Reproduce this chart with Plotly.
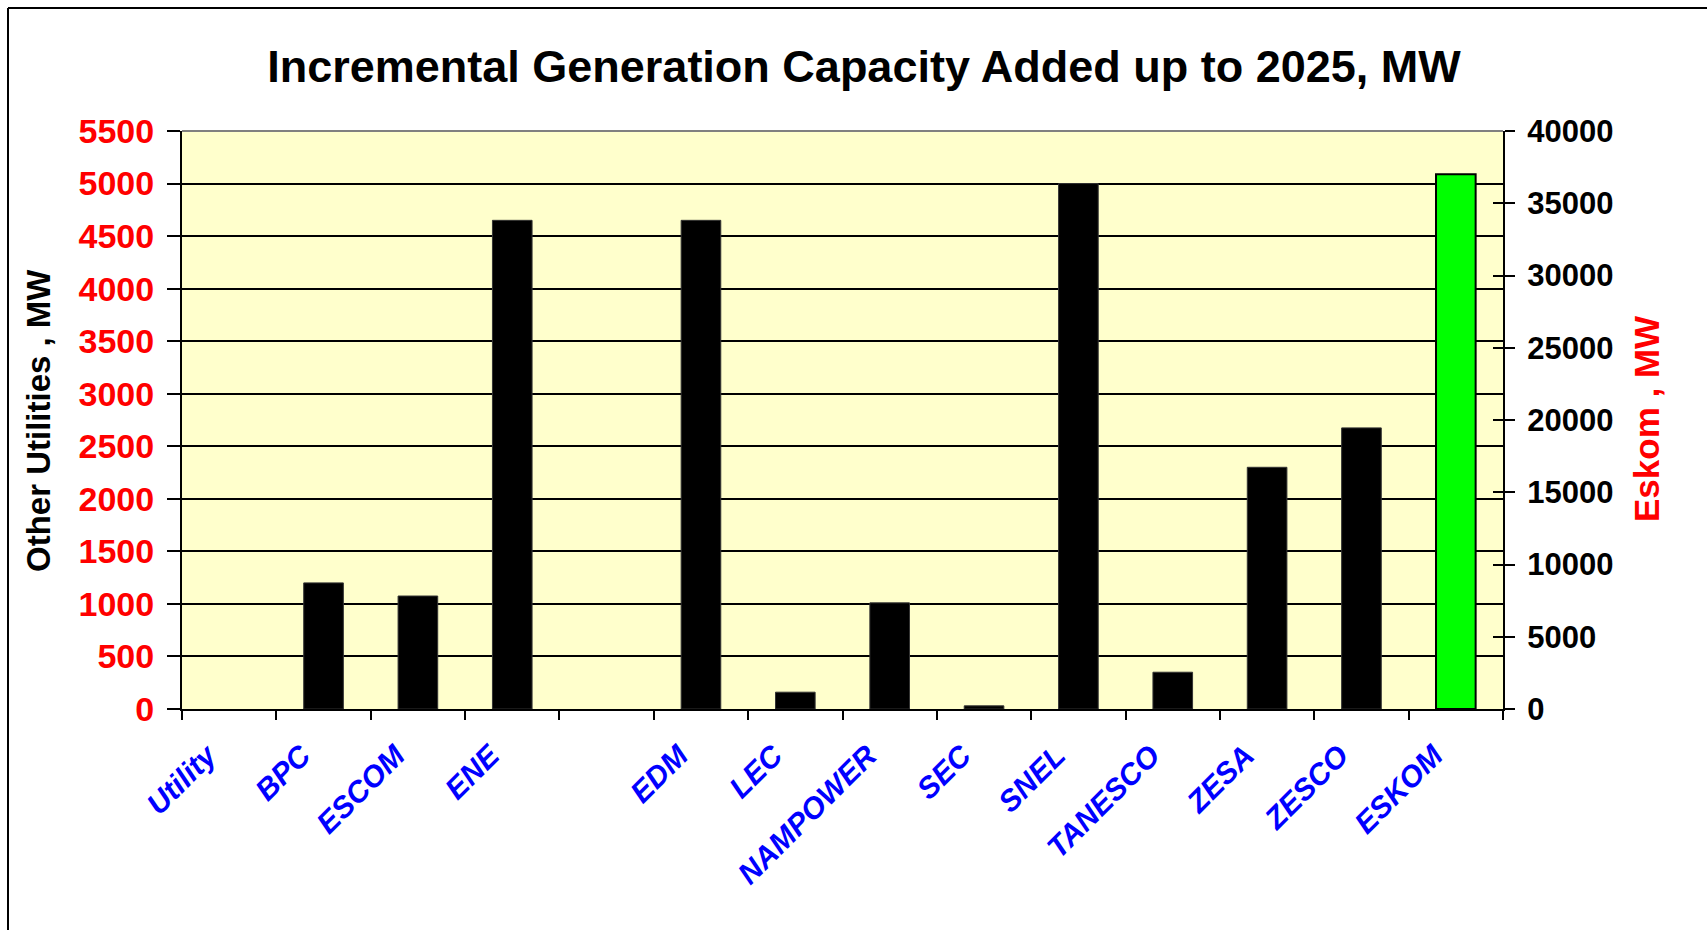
import plotly.graph_objects as go

categories = ["Utility", "BPC", "ESCOM", "ENE", " ", "EDM", "LEC", "NAMPOWER",
              "SEC", "SNEL", "TANESCO", "ZESA", "ZESCO", "ESKOM"]
other_utilities_mw = [None, 1200, 1075, 4650, None, 4650, 160, 1010,
                      30, 5000, 350, 2300, 2675, None]
eskom_mw = [None, None, None, None, None, None, None, None,
            None, None, None, None, None, 37000]

left_ticks = list(range(0, 5501, 500))
right_ticks = list(range(0, 40001, 5000))
right_tick_text = [str(v) for v in right_ticks]

FONT = "Arial, Liberation Sans, sans-serif"

fig = go.Figure()
fig.add_trace(go.Bar(
    x=categories, y=other_utilities_mw, yaxis="y", width=0.42,
    marker=dict(color="#000000", line=dict(color="#333333", width=1)),
    showlegend=False, hoverinfo="x+y",
))
fig.add_trace(go.Bar(
    x=categories, y=eskom_mw, yaxis="y2", width=0.42,
    marker=dict(color="#00FF00", line=dict(color="#000000", width=2)),
    showlegend=False, hoverinfo="x+y",
))
# invisible helper trace for inner half of right-axis ticks
fig.add_trace(go.Scatter(
    x=[categories[0]], y=[0], yaxis="y3", mode="markers",
    marker=dict(opacity=0), showlegend=False, hoverinfo="skip",
))
# invisible helper trace for the label axis (labels sit left of centre)
label_pos = [i - 0.23 for i in range(len(categories))]
fig.add_trace(go.Scatter(
    x=[0], y=[0], xaxis="x2", yaxis="y", mode="markers",
    marker=dict(opacity=0), showlegend=False, hoverinfo="skip",
))

L, R, T, B = 182, 1503, 131, 709
W, H = 1707, 930

fig.update_layout(
    width=W, height=H,
    margin=dict(l=L, r=W - R, t=T, b=H - B),
    paper_bgcolor="white",
    plot_bgcolor="#FFFFCC",
    barmode="overlay",
    font=dict(family=FONT, color="black"),
    title=dict(
        text="Incremental Generation Capacity Added up to 2025, MW",
        font=dict(family=FONT, size=45, color="black", weight="bold"),
        x=864 / W, xref="container", xanchor="center",
        y=1 - 66 / H, yref="container", yanchor="middle",
    ),
    xaxis=dict(
        type="category", categoryorder="array", categoryarray=categories,
        range=[-0.5, len(categories) - 0.5],
        tickson="boundaries", ticks="outside", ticklen=9, tickwidth=2,
        tickcolor="black", showline=True, linecolor="black", linewidth=2,
        showticklabels=False, showgrid=False,
    ),
    xaxis2=dict(
        type="linear", overlaying="x", anchor="y", side="bottom",
        range=[-0.5, len(categories) - 0.5],
        tickvals=label_pos, ticktext=categories,
        ticks="", showline=False, showgrid=False, zeroline=False,
        tickangle=-45, ticklabelstandoff=22,
        tickfont=dict(family=FONT, size=30, color="#0000FF",
                      weight="bold", style="italic"),
    ),
    yaxis=dict(
        range=[0, 5500], tickvals=left_ticks, ticks="outside", ticklen=13,
        tickwidth=2, tickcolor="black", showline=True, linecolor="black",
        linewidth=2, showgrid=True, gridcolor="black", gridwidth=2,
        zeroline=False, ticklabelstandoff=6,
        tickfont=dict(family=FONT, size=34, color="#FF0000", weight="bold"),
    ),
    yaxis2=dict(
        range=[0, 40000], tickvals=right_ticks, ticktext=right_tick_text,
        overlaying="y", side="right",
        anchor="x", ticks="outside", ticklen=10, tickwidth=2,
        tickcolor="black", showline=True, linecolor="black", linewidth=2,
        showgrid=False, zeroline=False, ticklabelstandoff=6,
        tickfont=dict(family=FONT, size=31, color="black", weight="bold"),
    ),
    yaxis3=dict(
        range=[0, 40000], tickvals=right_ticks, overlaying="y", side="right",
        anchor="x", ticks="inside", ticklen=10, tickwidth=2,
        tickcolor="black", showline=False, showgrid=False, zeroline=False,
        showticklabels=False,
    ),
    annotations=[
        dict(text="Other Utilities , MW", textangle=-90,
             xref="paper", yref="paper",
             x=(38 - L) / (R - L), y=(B - 421) / (B - T),
             xanchor="center", yanchor="middle", showarrow=False,
             font=dict(family=FONT, size=33, color="black", weight="bold")),
        dict(text="Eskom , MW", textangle=-90,
             xref="paper", yref="paper",
             x=(1646 - L) / (R - L), y=(B - 419) / (B - T),
             xanchor="center", yanchor="middle", showarrow=False,
             font=dict(family=FONT, size=35, color="#FF0000", weight="bold")),
    ],
    shapes=[
        # gray top border of plot area
        dict(type="line", xref="paper", yref="paper", x0=0, x1=1, y0=1, y1=1,
             line=dict(color="#808080", width=2), layer="above"),
        # outer chart frame (left and top edges)
        dict(type="line", xref="paper", yref="paper",
             x0=(8 - L) / (R - L), x1=(8 - L) / (R - L),
             y0=(B - 8) / (B - T), y1=(B - 940) / (B - T),
             line=dict(color="black", width=2)),
        dict(type="line", xref="paper", yref="paper",
             x0=(8 - L) / (R - L), x1=(1720 - L) / (R - L),
             y0=(B - 8) / (B - T), y1=(B - 8) / (B - T),
             line=dict(color="black", width=2)),
    ],
)

fig.write_html("out.html")
